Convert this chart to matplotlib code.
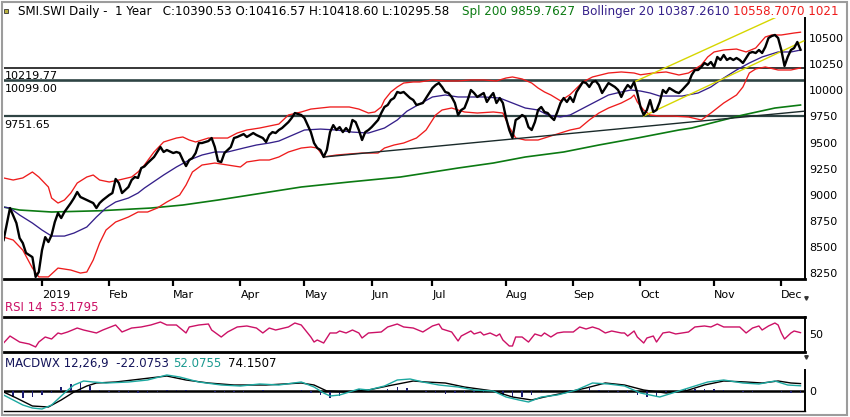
import numpy as np
import pandas as pd
import matplotlib
matplotlib.use("Agg")
import matplotlib.pyplot as plt
from matplotlib.patches import Rectangle

plt.rcParams['font.family'] = ['DejaVu Sans']

# ------------------------------------------------------------------ data
# trading calendar (SIX holidays) : session 0 = 2018-12-10
holidays = ['2018-12-24', '2018-12-25', '2018-12-26', '2018-12-31', '2019-01-01',
            '2019-01-02', '2019-04-19', '2019-04-22', '2019-05-01', '2019-05-30',
            '2019-06-10', '2019-08-01']
month_labels = ['2019', 'Feb', 'Mar', 'Apr', 'May', 'Jun', 'Jul', 'Aug', 'Sep',
                'Oct', 'Nov', 'Dec']
price_ticks = [8250, 8500, 8750, 9000, 9250, 9500, 9750, 10000, 10250, 10500]
levels = [10219.77, 10099.00, 9751.65]
level_labels = ['10219.77', '10099.00', '9751.65']

close_session = [0, 2, 4, 5, 6, 7, 8, 9, 10, 11, 12, 13, 14, 15, 16, 17, 18, 19, 21, 22, 23, 24,
                 26, 28, 29, 30, 31, 33, 34, 35, 36, 37, 39, 40, 41, 42, 43, 44,
                 45, 47, 48, 49, 50, 51, 53, 54, 55, 56, 57, 58, 59, 60, 61, 62, 64, 65, 66, 67,
                 68, 69, 70, 71, 72, 73, 75, 76, 78, 79, 81, 82, 83, 84, 85, 86,
                 87, 88, 89, 90, 91, 93, 94, 95, 96, 97, 98, 99, 100, 101, 102, 103, 104, 105,
                 106, 107, 108, 109, 110, 111, 112, 113, 114, 115, 117, 118, 119, 120, 121, 122,
                 123, 124, 125, 126, 127, 128,
                 129, 131, 132, 133, 134, 135, 136, 137, 138, 139, 140, 141, 142, 143, 144, 145,
                 146, 147, 148, 149, 150, 151, 152, 153, 154, 155, 156, 157, 158, 159, 160, 161,
                 162, 163, 164, 165, 166, 167, 168, 169, 170, 171,
                 172, 173, 174, 175, 176, 177, 178, 179, 180, 181, 182, 183, 184, 185, 186, 187,
                 188, 189, 190, 191, 192, 193, 194, 195, 196, 197, 198, 199, 200, 201, 202, 203,
                 204, 205, 206, 207, 208, 209, 210, 211,
                 212, 214, 215, 216, 217, 218, 219, 220, 221, 222, 223, 224, 225, 226, 227, 228,
                 229, 230, 231, 232, 233, 234, 235, 236, 237, 238, 239, 240, 241, 242, 243, 244,
                 245, 246, 247, 248, 249]
close_value = [8564, 8871, 8727, 8583, 8535, 8440, 8420, 8400, 8210, 8257, 8467, 8592, 8545, 8612,
               8737, 8823, 8775, 8833, 8919, 8967, 9025, 8977, 8948, 8919, 8871, 8919, 8948, 8996,
               9015, 9150, 9111, 9015, 9073, 9140, 9169, 9160, 9255, 9270,
               9303, 9361, 9409, 9457, 9409, 9428, 9399, 9409, 9399, 9332, 9274, 9332, 9351, 9399,
               9495, 9495, 9514, 9543, 9457, 9322, 9312, 9399, 9428, 9457, 9543, 9553, 9581, 9553,
               9591, 9572, 9543, 9505, 9572, 9600, 9591, 9620,
               9639, 9667, 9696, 9735, 9783, 9764, 9735, 9667, 9600, 9495, 9447, 9428, 9361, 9428,
               9600, 9667, 9620, 9648, 9600, 9639, 9600, 9716, 9696, 9620, 9524, 9600, 9620, 9648,
               9716, 9783, 9841, 9860, 9908, 9927, 9985, 9975, 9985, 9956, 9927, 9908,
               9860, 9879, 9927, 9975, 10023, 10052, 10071, 10033, 9985, 9975, 9937, 9879, 9764,
               9812, 9831, 9908, 10004, 9975, 9937, 9956, 9975, 9889, 9937, 9975, 9879, 9927, 9879,
               9735, 9620, 9543, 9716, 9735, 9764, 9745, 9648, 9620, 9696, 9812, 9841, 9793, 9783,
               9745,
               9716, 9793, 9879, 9927, 9889, 9937, 9889, 9985, 10033, 10081, 10071, 10033, 10081,
               10091, 10052, 9975, 10023, 10071, 10052, 10033, 10004, 9937, 10004, 10052, 10023,
               10081, 9975, 9841, 9764, 9812, 9908, 9793, 9812, 9889, 10004, 9975, 10023, 10004,
               9985, 9975,
               10004, 10071, 10148, 10196, 10196, 10225, 10263, 10244, 10273, 10225, 10321, 10292,
               10340, 10292, 10311, 10292, 10311, 10292, 10263, 10311, 10359, 10369, 10359, 10388,
               10359, 10417, 10503, 10522, 10532, 10503, 10388, 10234, 10321, 10388, 10407, 10465,
               10390.53]

boll_up_session = [0, 3, 6, 9, 11, 14, 15, 17, 19, 21, 23, 26, 28, 30, 33, 36, 40, 42, 44, 47,
                   50, 54, 56, 58, 60, 62, 64, 67, 70, 73, 76, 80, 83, 86, 89, 93, 96, 99, 102,
                   105, 108, 111, 114, 116, 118, 119, 121, 123, 125, 128, 130, 134, 138, 142,
                   146, 150, 154, 157, 159, 162, 165, 167, 169, 171, 174, 177, 181, 184, 189,
                   193, 197, 199, 203, 207, 211, 214, 218, 220, 222, 225, 229, 232, 235, 238,
                   240, 243, 247, 249]
boll_up_value = [9160, 9140, 9160, 9217, 9169, 9073, 8967, 8919, 8948, 9015, 9111, 9169, 9188,
                 9140, 9121, 9140, 9169, 9217, 9284, 9409, 9505, 9543, 9553, 9524, 9505, 9524,
                 9543, 9543, 9543, 9591, 9620, 9639, 9658, 9677, 9764, 9793, 9821, 9831, 9841,
                 9841, 9841, 9821, 9783, 9793, 9841, 9908, 9985, 10033, 10071, 10081, 10081,
                 10100, 10091, 10091, 10100, 10100, 10091, 10119, 10129, 10110, 10071, 10023,
                 9985, 9956, 9900, 9960, 10081, 10129, 10167, 10177, 10167, 10150, 10167,
                 10177, 10148, 10167, 10244, 10321, 10369, 10388, 10397, 10369, 10407, 10513,
                 10532, 10532, 10551, 10558.71]

boll_lo_session = [0, 3, 6, 9, 11, 14, 17, 21, 24, 26, 28, 30, 32, 35, 39, 42, 45, 48, 51, 55,
                   57, 59, 62, 66, 70, 74, 76, 80, 83, 86, 89, 93, 96, 98, 100, 104, 108, 112,
                   117, 119, 122, 125, 129, 132, 135, 137, 140, 144, 148, 153, 156, 158, 160,
                   163, 167, 170, 177, 180, 183, 186, 189, 193, 196, 197, 198, 200, 202, 205,
                   209, 214, 218, 221, 225, 229, 231, 233, 235, 238, 242, 246, 249]
boll_lo_value = [8592, 8564, 8467, 8295, 8210, 8210, 8295, 8276, 8247, 8257, 8372, 8535, 8660,
                 8737, 8785, 8833, 8833, 8871, 8929, 8996, 9092, 9217, 9284, 9303, 9284, 9265,
                 9313, 9332, 9332, 9361, 9409, 9447, 9457, 9447, 9361, 9380, 9390, 9399, 9399,
                 9447, 9476, 9495, 9543, 9620, 9764, 9812, 9831, 9793, 9783, 9793, 9783, 9648,
                 9543, 9524, 9524, 9553, 9620, 9639, 9716, 9783, 9831, 9879, 9927, 9956, 9889,
                 9812, 9764, 9754, 9754, 9745, 9716, 9783, 9879, 9956, 10033, 10167, 10206,
                 10225, 10196, 10196, 10215.8]

boll_mid_session = [0, 2, 5, 9, 12, 15, 19, 22, 26, 29, 32, 35, 39, 42, 44, 50, 54, 58, 62, 66,
                    70, 75, 79, 83, 86, 94, 99, 104, 109, 114, 119, 123, 126, 130, 134, 138,
                    142, 146, 150, 155, 159, 163, 167, 170, 174, 177, 180, 183, 186, 189, 193,
                    196, 199, 202, 205, 208, 212, 217, 221, 225, 229, 233, 237, 242, 246, 249]
boll_mid_value = [8880, 8871, 8804, 8727, 8660, 8602, 8602, 8631, 8689, 8785, 8871, 8929, 8967,
                  9015, 9063, 9188, 9265, 9332, 9380, 9409, 9409, 9447, 9476, 9495, 9514, 9620,
                  9629, 9620, 9600, 9591, 9639, 9716, 9800, 9870, 9937, 9956, 9937, 9937, 9937,
                  9927, 9879, 9831, 9812, 9764, 9745, 9764, 9812, 9860, 9908, 9956, 9985,
                  10004, 9994, 9975, 9946, 9946, 9946, 9975, 10033, 10119, 10196, 10263, 10321,
                  10369, 10369, 10387.26]

sma200_session = [0, 5, 15, 30, 46, 56, 67, 77, 93, 108, 124, 132, 142, 153, 163, 175, 186, 198,
                  211, 215, 231, 241, 249]
sma200_value = [8880, 8852, 8833, 8845, 8871, 8900, 8948, 8996, 9073, 9121, 9169, 9207, 9255,
                9303, 9361, 9409, 9476, 9543, 9620, 9639, 9764, 9831, 9859.76]

trend_session = [100, 250]
trend_value = [9361, 9800]
chan_up_session = [197, 250]
chan_up_value = [10081, 10823]
chan_lo_session = [200, 250]
chan_lo_value = [9754, 10475]

rsi_session = [0, 2, 5, 8, 10, 11, 13, 15, 17, 18, 20, 23, 25, 29, 31, 35, 37, 40, 43, 46, 49,
               51, 54, 57, 58, 61, 64, 65, 68, 70, 73, 76, 79, 81, 83, 85, 89, 91, 93, 95, 96,
               97, 98, 100, 102, 104, 105, 107, 109, 111, 112, 114, 118, 120, 123, 125, 128,
               131, 134, 136, 137, 140, 142, 143, 146, 147, 149, 150, 152, 154, 155, 156, 158,
               159, 160, 162, 164, 166, 168, 169, 171, 173, 175, 178, 180, 182, 184, 186, 188,
               190, 193, 194, 195, 197, 198, 200, 201, 203, 204, 206, 208, 210, 212, 214, 216,
               219, 221, 223, 225, 228, 230, 232, 234, 236, 237, 239, 241, 242, 243, 244, 246,
               247, 249]
rsi_value = [35.4, 47.4, 37.1, 33.7, 28.6, 37.1, 45.7, 42.3, 52.6, 50.9, 54.3, 61.1, 57.7, 52.6,
             57.7, 66.3, 54.3, 61.1, 62.9, 66.3, 71.4, 66.3, 66.3, 52.6, 62.9, 66.3, 68.0, 57.7,
             45.7, 54.3, 62.9, 64.6, 61.1, 52.6, 61.1, 57.7, 62.9, 69.7, 66.3, 52.6, 45.7, 37.1,
             40.6, 35.4, 52.6, 52.6, 56.0, 52.6, 57.7, 52.6, 44.0, 52.6, 54.3, 62.9, 68.0, 62.9,
             61.1, 54.3, 64.6, 68.0, 59.4, 54.3, 38.9, 47.4, 56.0, 50.9, 54.3, 49.1, 52.6, 47.4,
             50.9, 40.6, 30.3, 30.3, 45.7, 45.7, 37.1, 50.9, 47.4, 52.6, 45.7, 52.6, 54.3, 54.3,
             62.9, 59.4, 62.9, 59.4, 52.6, 56.0, 52.6, 52.6, 47.4, 56.0, 45.7, 35.4, 44.0, 47.4,
             37.1, 52.6, 54.3, 50.9, 52.6, 54.3, 62.9, 64.6, 62.9, 68.0, 62.9, 62.9, 62.9, 52.6,
             61.1, 64.6, 57.7, 64.6, 69.7, 66.3, 52.6, 42.3, 52.6, 56.0, 53.18]

macd_session = [0, 3, 6, 9, 12, 15, 19, 22, 25, 28, 32, 39, 45, 51, 55, 61, 68, 74, 80, 86, 93,
                97, 100, 102, 105, 108, 111, 114, 119, 123, 127, 131, 136, 142, 147, 153, 157,
                161, 164, 168, 173, 179, 184, 189, 194, 199, 205, 210, 215, 220, 225, 231, 236,
                241, 245, 249]
macd_value = [-40, -90, -140, -170, -180, -140, -20, 60, 100, 90, 80, 90, 110, 160, 140, 90, 60,
              50, 70, 60, 90, 40, -20, -50, -40, -10, 20, 10, 50, 110, 120, 90, 60, 40, 10, 0,
              -60, -90, -110, -60, -40, 10, 80, 70, 50, -20, -60, -10, 40, 90, 110, 80, 70, 100,
              60, 52.08]
signal_session = [0, 4, 9, 14, 18, 22, 26, 29, 35, 43, 51, 57, 64, 72, 82, 93, 97, 101, 107, 114,
                  120, 128, 132, 138, 144, 153, 159, 165, 169, 175, 182, 188, 194, 200, 207, 213,
                  219, 225, 232, 237, 242, 246, 249]
signal_value = [-10, -70, -150, -160, -90, -10, 50, 80, 90, 120, 150, 110, 80, 60, 60, 80, 60, 0,
                -10, 10, 50, 100, 90, 80, 40, 0, -60, -90, -60, -20, 30, 80, 60, 10, -20, 0, 60,
                100, 90, 80, 100, 80, 74.15]
hist_value = [-30, -60, -70, -60, -40, -15, 40, 75, 80, 50, 10, -5, -9, -15, -18, -16, -5, 10,
              15, 13, 5, 0, -7, -10, -7, -6, 3, 8, 0, -3, 3, 6, -16, -40, -70, -45, -4, 17, 0, 3,
              23, 40, 28, 5, -12, -22, -26, -15, -15, -13, -9, -5, -40, -60, -60, -40, 7, -3, -2,
              7, 12, 33, 13, -11, -12, -15, -40, -60, -55, -21, 3, 20, 25, 20, 18, 12, -1, -11,
              -9, 1, 0, -14, -23, -22.08]
hist_session = list(range(0, 250, 3))

# ------------------------------------------------------------------ calendar
sessions = pd.bdate_range('2018-12-10', '2019-12-10')
sessions = sessions[~sessions.isin(pd.to_datetime(holidays))]
per = sessions.to_period('M')
month_first = [i for i in range(1, len(sessions)) if per[i] != per[i - 1]]

# ------------------------------------------------------------------ layout
W, H = 850, 417
fig = plt.figure(figsize=(W / 100, H / 100), dpi=100)
fig.patch.set_facecolor('white')


def rect(x0, y0, x1, y1):
    return [x0 / W, 1 - y1 / H, (x1 - x0) / W, (y1 - y0) / H]


XL = (0.125, 250.4)
RED = '#EE1C1C'
PURPLE = '#35208A'
GREEN = '#0B7A12'
YELLOW = '#D6D600'
TEAL = '#1CA8A0'
RSIC = '#CC1166'
SLATE = '#2E4444'

# ---------------- price panel
ax = fig.add_axes(rect(4, 18, 805, 279))
ax.set_xlim(*XL)
ax.set_ylim(8190, 10695)
for sp in ['top', 'left']:
    ax.spines[sp].set_visible(False)
ax.spines['bottom'].set_linewidth(2)
ax.spines['right'].set_linewidth(1.4)

ax.axhline(levels[0], color='black', lw=1.1, zorder=1)
ax.axhline(levels[1], color=SLATE, lw=1.9, zorder=1)
ax.axhline(levels[2], color=SLATE, lw=1.6, zorder=1)
for lv, lb in zip(levels, level_labels):
    ax.annotate(lb, xy=(0, lv), xycoords=('axes fraction', 'data'), xytext=(0.5, -2.5),
                textcoords='offset points', ha='left', va='top', fontsize=8, color='black')

ax.plot(sma200_session, sma200_value, color=GREEN, lw=1.2, zorder=2)
ax.plot(boll_up_session, boll_up_value, color=RED, lw=0.95, zorder=3)
ax.plot(boll_lo_session, boll_lo_value, color=RED, lw=0.95, zorder=3)
ax.plot(boll_mid_session, boll_mid_value, color=PURPLE, lw=0.95, zorder=3)
ax.plot(trend_session, trend_value, color='#1a2a2a', lw=1.0, zorder=3)
ax.plot(chan_up_session, chan_up_value, color=YELLOW, lw=1.0, zorder=3)
ax.plot(chan_lo_session, chan_lo_value, color=YELLOW, lw=1.0, zorder=3)
ax.plot(close_session, close_value, color='black', lw=1.7, zorder=4, solid_joinstyle='round')

ax.yaxis.tick_right()
ax.set_yticks(price_ticks)
ax.set_yticklabels([str(v) for v in price_ticks])
ax.tick_params(axis='y', length=0, pad=3, labelsize=8)
ax.set_xticks(month_first)
ax.set_xticklabels(month_labels, ha='left')
ax.tick_params(axis='x', length=5, width=1.6, pad=3, labelsize=8, direction='out')

# ---------------- RSI panel
ar = fig.add_axes(rect(4, 317, 805, 352))
ar.set_xlim(*XL)
ar.set_ylim(20, 80)
ar.spines['left'].set_visible(False)
ar.spines['top'].set_linewidth(2)
ar.spines['bottom'].set_linewidth(2)
ar.spines['right'].set_linewidth(1.4)
ar.plot(rsi_session, rsi_value, color=RSIC, lw=1.0)
ar.yaxis.tick_right()
ar.set_yticks([50])
ar.set_yticklabels(['50'])
ar.tick_params(axis='y', length=0, pad=3, labelsize=8)
ar.set_xticks([])

# ---------------- MACD panel
am = fig.add_axes(rect(4, 370, 805, 411))
am.set_xlim(*XL)
am.set_ylim(-200, 210)
am.spines['left'].set_visible(False)
am.spines['top'].set_visible(False)
am.spines['bottom'].set_linewidth(1.0)
am.spines['right'].set_linewidth(1.4)
am.axhline(0, color='black', lw=1.8, zorder=1)
am.bar(hist_session, hist_value, width=0.45, color='#1C1C70', zorder=2)
am.plot(signal_session, signal_value, color='black', lw=1.0, zorder=3)
am.plot(macd_session, macd_value, color=TEAL, lw=1.0, zorder=3)
am.yaxis.tick_right()
am.set_yticks([0])
am.set_yticklabels(['0'])
am.tick_params(axis='y', length=0, pad=3, labelsize=8)
am.set_xticks([])

# ---------------- texts
def ftext(x, y, s, color, size=8.6):
    fig.text(x / W, 1 - y / H, s, color=color, fontsize=size, va='baseline', ha='left')


ftext(18, 15, 'SMI.SWI Daily -  1 Year   C:10390.53 O:10416.57 H:10418.60 L:10295.58', 'black')
ftext(462, 15, 'Spl 200 9859.7627', GREEN)
ftext(582, 15, 'Bollinger 20 10387.2610', PURPLE)
ftext(733, 15, '10558.7070 1021', RED)
ftext(5, 311, 'RSI 14  53.1795', RSIC, 8.5)
ftext(5, 367, 'MACDWX 12,26,9  -22.0753', '#14145A', 8.5)
ftext(173, 367, '52.0755', '#1A9A90', 8.5)
ftext(228, 367, '74.1507', 'black', 8.5)

# small icon and marks
fig.add_artist(Rectangle((4 / W, 1 - 13 / H), 4 / W, 4 / H, transform=fig.transFigure,
                         facecolor='#B8B040', edgecolor='#333333', lw=0.6))
for yy in (298, 357):
    fig.add_artist(plt.Line2D([806 / W], [1 - yy / H], marker='v', markersize=2.5,
                              color='#333333', transform=fig.transFigure))
fig.add_artist(Rectangle((2 / W, 2 / H), 845 / W, 413 / H, transform=fig.transFigure,
                         fill=False, edgecolor='#9C9C9C', lw=1.5))

fig.savefig('out.png', dpi=100)
